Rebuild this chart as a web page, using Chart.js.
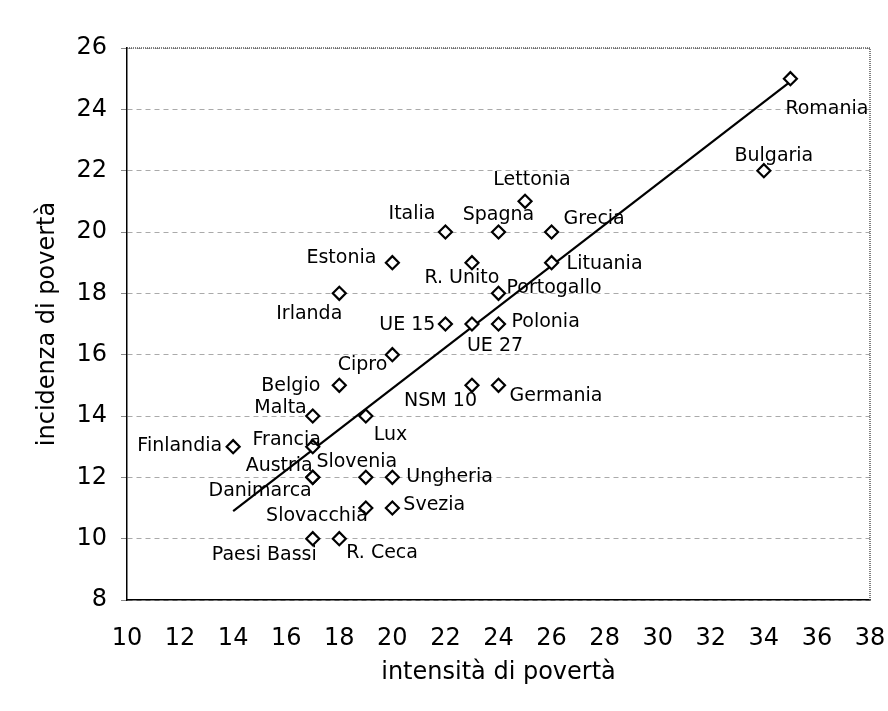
<!DOCTYPE html>
<html>
<head>
<meta charset="utf-8">
<title>Intensità e incidenza di povertà</title>
<script src="https://cdn.jsdelivr.net/npm/chart.js"></script>
<style>
  body { margin: 0; background: #fff; }
  canvas { display: block; }
</style>
</head>
<body>
<canvas id="povertaChart" width="888" height="711"></canvas>
<script>
// Data
const paesi = ['Romania', 'Bulgaria', 'Lettonia', 'Italia', 'Spagna', 'Grecia', 'Estonia', 'R. Unito',
  'Lituania', 'Irlanda', 'Portogallo', 'UE 15', 'UE 27', 'Polonia', 'Cipro', 'Belgio', 'NSM 10',
  'Germania', 'Malta', 'Lux', 'Finlandia', 'Francia', 'Austria', 'Danimarca', 'Slovenia', 'Ungheria',
  'Slovacchia', 'Svezia', 'Paesi Bassi', 'R. Ceca'];
const intensita = [35, 34, 25, 22, 24, 26, 20, 23, 26, 18, 24, 22, 23, 24, 20, 18, 23, 24, 17, 19, 14, 17, 17, 17, 19, 20, 19, 20, 17, 18];
const incidenza = [25, 22, 21, 20, 20, 20, 19, 19, 19, 18, 18, 17, 17, 17, 16, 15, 15, 15, 14, 14, 13, 13, 12, 12, 12, 12, 11, 11, 10, 10];

// trend line end points
const trendX = [14, 35];
const trendY = [10.9, 24.9];

// where each country name sits relative to its marker: [dx, dy, align]
const labelPos = {
  'Romania': [-5, 30, 'left'],
  'Bulgaria': [10, -15, 'center'],
  'Lettonia': [7, -21, 'center'],
  'Italia': [-10, -18, 'right'],
  'Spagna': [0, -17, 'center'],
  'Grecia': [12, -13, 'left'],
  'Estonia': [-16, -5, 'right'],
  'R. Unito': [-10, 15, 'center'],
  'Lituania': [15, 1, 'left'],
  'Irlanda': [-30, 21, 'center'],
  'Portogallo': [8, -5, 'left'],
  'UE 15': [-10, 1, 'right'],
  'UE 27': [-5, 22, 'left'],
  'Polonia': [13, -2, 'left'],
  'Cipro': [-5, 10, 'right'],
  'Belgio': [-19, 1, 'right'],
  'NSM 10': [5, 16, 'right'],
  'Germania': [11, 11, 'left'],
  'Malta': [-6, -8, 'right'],
  'Lux': [8, 19, 'left'],
  'Finlandia': [-11, -1, 'right'],
  'Francia': [-26, -7, 'center'],
  'Austria': [0, -11, 'right'],
  'Danimarca': [-1, 14, 'right'],
  'Slovenia': [-9, -15, 'center'],
  'Ungheria': [14, 0, 'left'],
  'Slovacchia': [2, 8, 'right'],
  'Svezia': [11, -3, 'left'],
  'Paesi Bassi': [4, 16, 'right'],
  'R. Ceca': [7, 14, 'left']
};

const FONT = '"DejaVu Sans", Verdana, sans-serif';
Chart.defaults.font.family = FONT;
Chart.defaults.color = '#000';

// country names next to the markers
const pointLabels = {
  id: 'pointLabels',
  afterDatasetsDraw(chart) {
    const ctx = chart.ctx;
    const meta = chart.getDatasetMeta(0);
    ctx.save();
    ctx.font = '19px ' + FONT;
    ctx.fillStyle = '#000';
    ctx.textBaseline = 'middle';
    meta.data.forEach((pt, i) => {
      const pos = labelPos[paesi[i]] || [8, 0, 'left'];
      ctx.textAlign = pos[2];
      ctx.fillText(paesi[i], pt.x + pos[0], pt.y + pos[1]);
    });
    ctx.restore();
  }
};

// dotted frame on top and right side
const frame = {
  id: 'frame',
  beforeDatasetsDraw(chart) {
    const a = chart.chartArea;
    const ctx = chart.ctx;
    ctx.save();
    ctx.strokeStyle = '#555';
    ctx.lineWidth = 1.5;
    ctx.setLineDash([1, 1]);
    ctx.beginPath();
    ctx.moveTo(a.left, a.top);
    ctx.lineTo(a.right, a.top);
    ctx.lineTo(a.right, a.bottom);
    ctx.stroke();
    ctx.restore();
  }
};

new Chart(document.getElementById('povertaChart'), {
  type: 'scatter',
  data: {
    datasets: [
      {
        label: 'Paesi',
        data: intensita.map((x, i) => ({ x: x, y: incidenza[i] })),
        pointStyle: 'rectRot',
        pointRadius: 6.5,
        pointHoverRadius: 6.5,
        pointBorderWidth: 2.2,
        borderColor: '#000',
        backgroundColor: '#fff'
      },
      {
        label: 'Tendenza',
        data: trendX.map((x, i) => ({ x: x, y: trendY[i] })),
        showLine: true,
        pointRadius: 0,
        borderColor: '#000',
        borderWidth: 2.2,
        fill: false
      }
    ]
  },
  options: {
    responsive: false,
    animation: false,
    layout: { padding: { top: 48, right: 18, left: 0, bottom: 0 } },
    plugins: {
      legend: { display: false },
      tooltip: { enabled: false }
    },
    scales: {
      x: {
        type: 'linear',
        min: 10,
        max: 38,
        ticks: { stepSize: 2, padding: 24, font: { size: 24 } },
        grid: { display: false, drawTicks: false },
        border: { color: '#000', width: 1.5 },
        title: {
          display: true,
          text: 'intensità di povertà',
          font: { size: 24 },
          padding: { top: 0, bottom: 24 }
        },
        afterFit(scale) {
          scale.height = 111;
          scale.paddingLeft = 0;
          scale.paddingRight = 0;
        }
      },
      y: {
        type: 'linear',
        min: 8,
        max: 26,
        ticks: { stepSize: 2, padding: 14, font: { size: 24 } },
        grid: {
          color: '#aaa',
          lineWidth: 1,
          tickLength: 6,
          tickColor: '#888'
        },
        border: { color: '#000', width: 1.5, dash: [5, 4] },
        title: {
          display: true,
          text: 'incidenza di povertà',
          font: { size: 24 },
          padding: { top: 33, bottom: 0 }
        },
        afterFit(scale) {
          scale.width = 127;
          scale.paddingTop = 0;
          scale.paddingBottom = 0;
        }
      }
    }
  },
  plugins: [frame, pointLabels]
});
</script>
</body>
</html>
